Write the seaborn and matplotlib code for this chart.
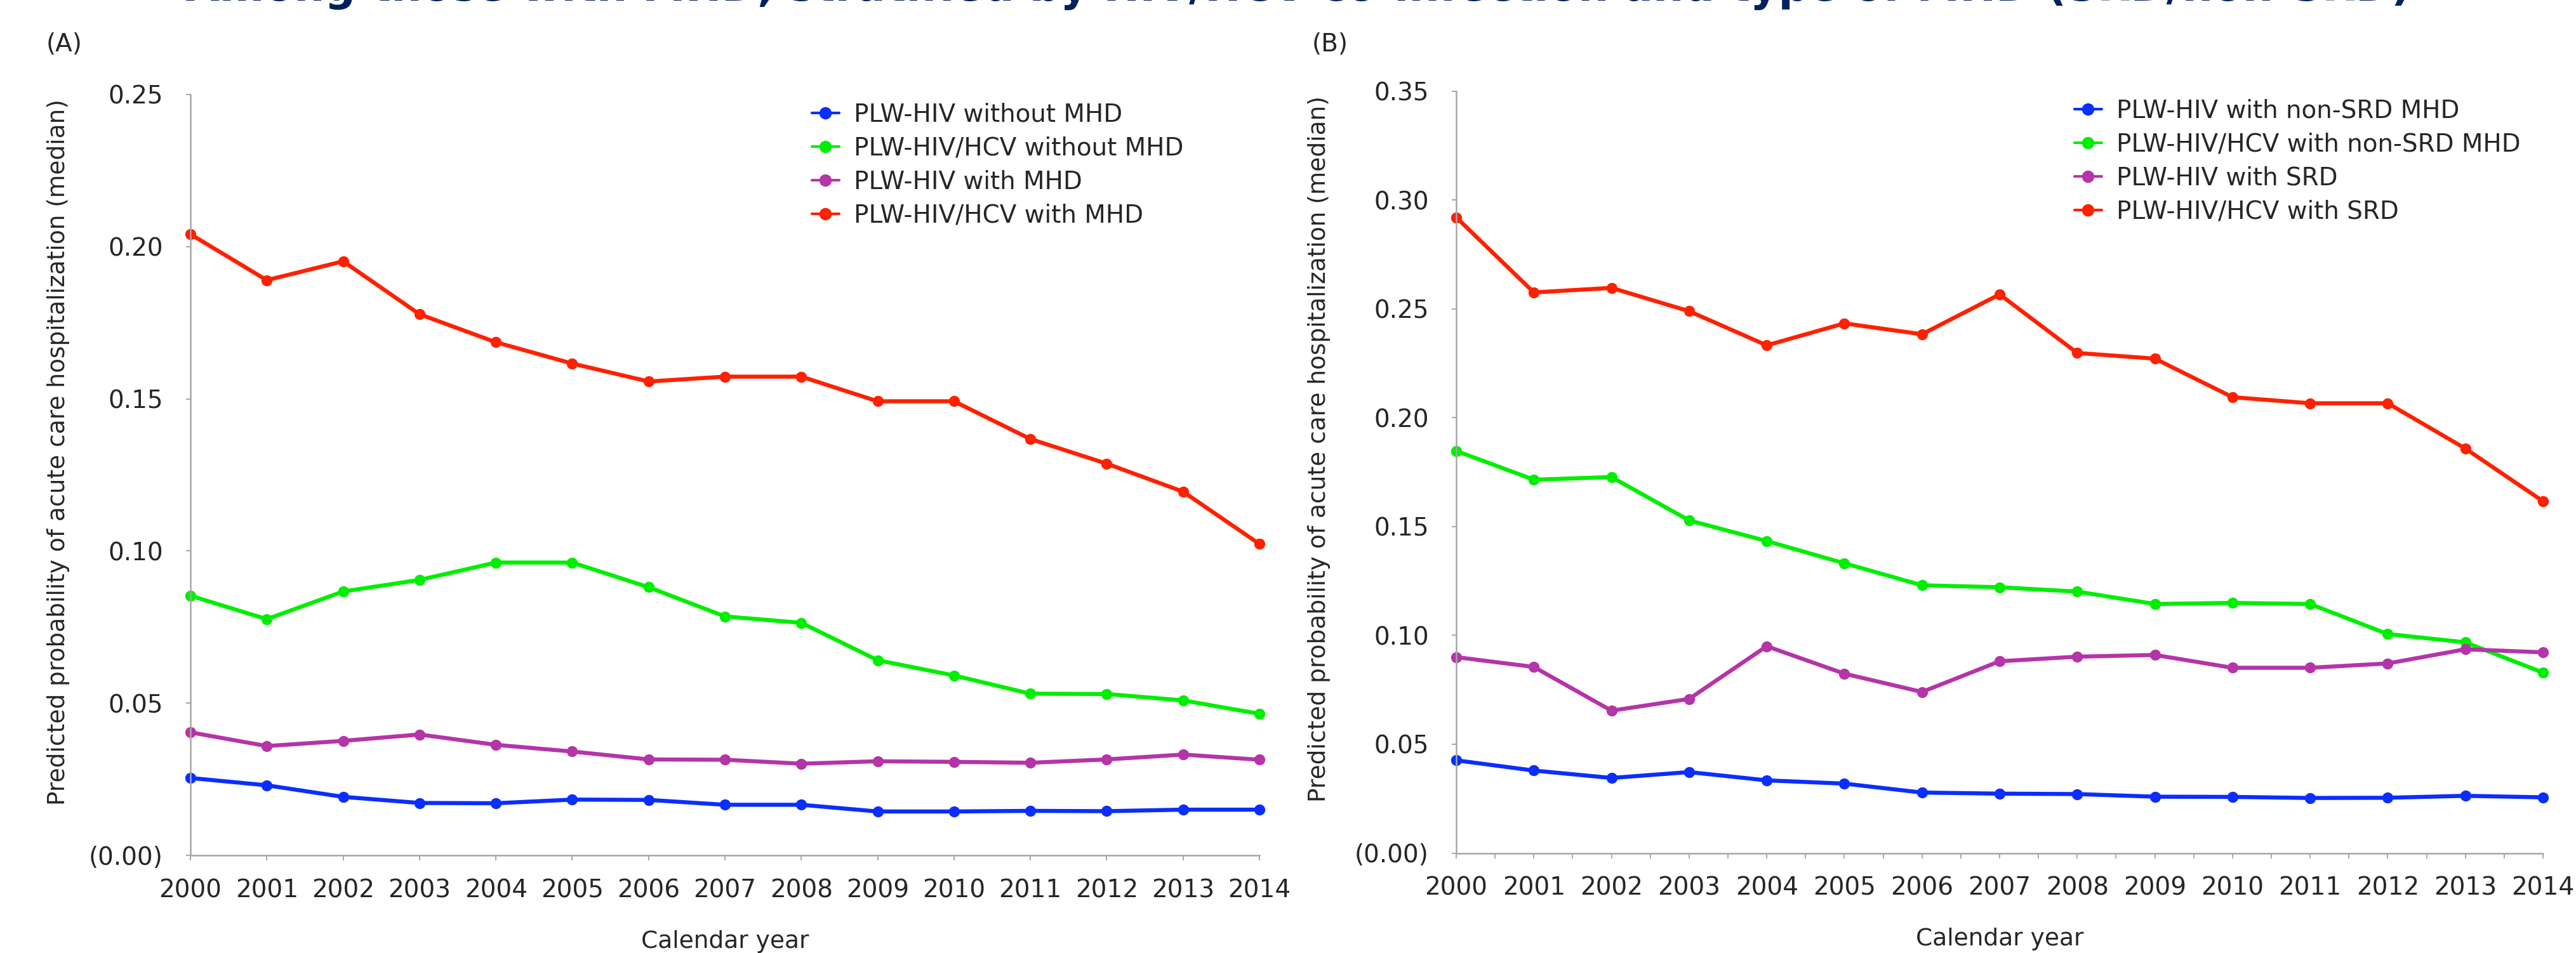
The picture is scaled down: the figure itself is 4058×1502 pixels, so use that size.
import pandas as pd
import matplotlib
matplotlib.use('Agg')
import matplotlib.pyplot as plt
from matplotlib.lines import Line2D
from matplotlib.ticker import MultipleLocator
import seaborn as sns

years = list(range(2000, 2015))

# Panel A
a_groups = ['PLW-HIV without MHD', 'PLW-HIV/HCV without MHD',
            'PLW-HIV with MHD', 'PLW-HIV/HCV with MHD']
a_hiv_no_mhd = [0.0254, 0.0230, 0.0192, 0.0172, 0.0171, 0.0183, 0.0182, 0.0166,
                0.0166, 0.0144, 0.0144, 0.0146, 0.0145, 0.0150, 0.0150]
a_hcv_no_mhd = [0.0853, 0.0776, 0.0867, 0.0905, 0.0962, 0.0962, 0.0881, 0.0785,
                0.0764, 0.0641, 0.0591, 0.0531, 0.0530, 0.0509, 0.0465]
a_hiv_mhd = [0.0404, 0.0359, 0.0376, 0.0397, 0.0363, 0.0341, 0.0315, 0.0314,
             0.0301, 0.0309, 0.0307, 0.0304, 0.0315, 0.0331, 0.0314]
a_hcv_mhd = [0.2041, 0.1890, 0.1952, 0.1778, 0.1686, 0.1616, 0.1557, 0.1573,
             0.1573, 0.1492, 0.1492, 0.1368, 0.1287, 0.1195, 0.1023]

# Panel B
b_groups = ['PLW-HIV with non-SRD MHD', 'PLW-HIV/HCV with non-SRD MHD',
            'PLW-HIV with SRD', 'PLW-HIV/HCV with SRD']
b_hiv_nonsrd = [0.0426, 0.0379, 0.0345, 0.0372, 0.0334, 0.0319, 0.0278, 0.0273,
                0.0271, 0.0259, 0.0258, 0.0253, 0.0254, 0.0263, 0.0256]
b_hcv_nonsrd = [0.1847, 0.1715, 0.1727, 0.1528, 0.1433, 0.1331, 0.1230, 0.1221,
                0.1201, 0.1144, 0.1149, 0.1144, 0.1006, 0.0968, 0.0829]
b_hiv_srd = [0.0900, 0.0855, 0.0654, 0.0708, 0.0950, 0.0824, 0.0740, 0.0881,
             0.0902, 0.0910, 0.0851, 0.0851, 0.0871, 0.0936, 0.0922]
b_hcv_srd = [0.2920, 0.2575, 0.2596, 0.2489, 0.2332, 0.2433, 0.2383, 0.2566,
             0.2297, 0.2271, 0.2094, 0.2066, 0.2066, 0.1858, 0.1616]

colors = ['#0A2EFF', '#00EE00', '#B534A8', '#FF2000']

title = 'Among those with MHD, stratified by HIV/HCV co-infection and type of MHD (SRD/non-SRD)'
ylabel = 'Predicted probability of acute care hospitalization (median)'


def long_df(groups, series):
    rows = []
    for g, vals in zip(groups, series):
        for y, v in zip(years, vals):
            rows.append({'year': y, 'group': g, 'value': v})
    return pd.DataFrame(rows)


df_a = long_df(a_groups, [a_hiv_no_mhd, a_hcv_no_mhd, a_hiv_mhd, a_hcv_mhd])
df_b = long_df(b_groups, [b_hiv_nonsrd, b_hcv_nonsrd, b_hiv_srd, b_hcv_srd])

sns.set_style('white')
plt.rcParams['font.family'] = ['DejaVu Sans']

W, H = 4058, 1502
fig = plt.figure(figsize=(W / 100, H / 100), dpi=100)
fig.patch.set_facecolor('white')

ax_a = fig.add_axes([300 / W, 1 - 1348 / H, 1684 / W, 1199 / H])
ax_b = fig.add_axes([2294 / W, 1 - 1344.5 / H, 1712 / W, 1201 / H])


def draw(ax, df, groups, ymax, leg_anchor, minor):
    sns.lineplot(data=df, x='year', y='value', hue='group', hue_order=groups,
                 palette=colors, marker='o', markersize=12.5, markeredgewidth=0,
                 linewidth=4.6, legend=False, clip_on=False, ax=ax)
    ax.set_xlim(2000, 2014)
    ax.set_ylim(0, ymax)
    ax.set_xticks(years)
    ax.set_xticklabels([str(y) for y in years])
    yt = [round(0.05 * i, 2) for i in range(int(round(ymax / 0.05)) + 1)]
    ax.set_yticks(yt)
    ax.set_yticklabels(['(0.00)'] + ['%.2f' % v for v in yt[1:]])
    for s in ['top', 'right']:
        ax.spines[s].set_visible(False)
    for s in ['left', 'bottom']:
        ax.spines[s].set_color('#A6A6A6')
        ax.spines[s].set_linewidth(1.8)
    ax.tick_params(axis='x', which='major', direction='out', length=6, width=1.4,
                   color='#A6A6A6', labelsize=28, pad=20, bottom=True)
    ax.tick_params(axis='y', which='major', direction='out', length=5, width=1.4,
                   color='#A6A6A6', labelsize=28, pad=26, left=True)
    if minor:
        ax.xaxis.set_minor_locator(MultipleLocator(0.5))
        ax.tick_params(axis='x', which='minor', direction='out', length=6,
                       width=1.4, color='#A6A6A6', bottom=True)
    ax.set_xlabel('Calendar year', fontsize=27)
    ax.xaxis.set_label_coords(0.5, -0.098)
    ax.set_ylabel(ylabel, fontsize=27)
    ax.grid(False)
    handles = [Line2D([0], [0], color=c, lw=3, marker='o', markersize=14,
                      markeredgewidth=0) for c in colors]
    fig.legend(handles, groups, loc='upper left', bbox_to_anchor=leg_anchor,
               frameon=False, fontsize=28, handlelength=1.1,
               handletextpad=0.6, labelspacing=0.38, borderpad=0,
               borderaxespad=0)


draw(ax_a, df_a, a_groups, 0.25, (1279 / W, 1 - 162 / H), False)
draw(ax_b, df_b, b_groups, 0.35, (3268 / W, 1 - 156 / H), True)

# y labels: right edge of rotated text at given x
ax_a.yaxis.set_label_coords((110 - 300) / 1684, 0.53)
ax_b.yaxis.set_label_coords((2096 - 2294) / 1712, 0.53)

fig.text(101 / W, 1 - 70 / H, '(A)', fontsize=28, ha='center', va='center')
fig.text(2095 / W, 1 - 70 / H, '(B)', fontsize=28, ha='center', va='center')

# title line, mostly cut off at the top edge as in the source
fig.text(0.504, 1 - 1.5 / H, title, fontsize=49, fontweight='bold',
         color='#002060', ha='center', va='baseline')

fig.savefig('out.png', dpi=100, facecolor='white')
